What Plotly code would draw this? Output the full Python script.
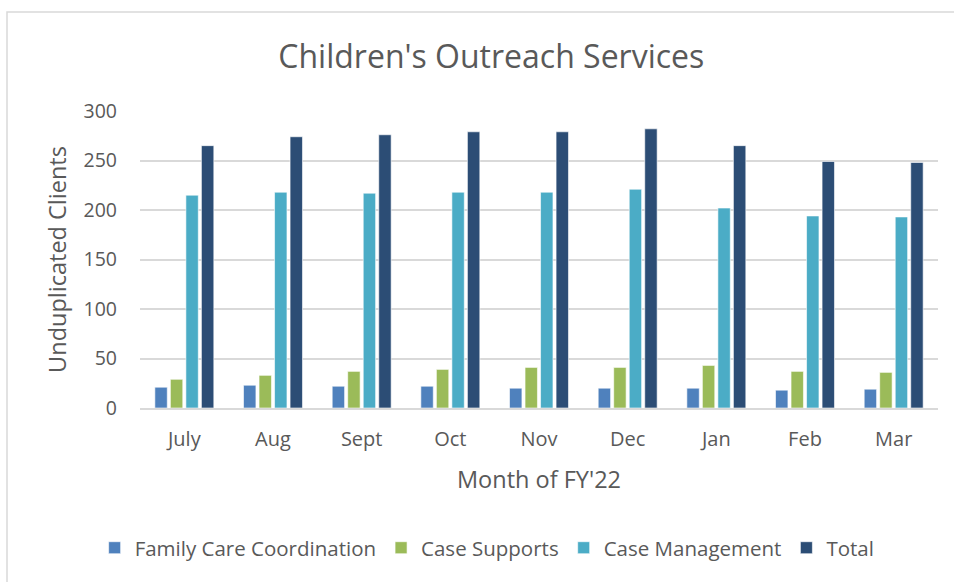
import plotly.graph_objects as go

months = ["July", "Aug", "Sept", "Oct", "Nov", "Dec", "Jan", "Feb", "Mar"]
family_care = [21, 23, 22, 22, 20, 20, 20, 18, 19]
case_supports = [29, 33, 37, 39, 41, 41, 43, 37, 36]
case_management = [215, 218, 217, 218, 218, 221, 202, 194, 193]
total = [265, 274, 276, 279, 279, 282, 265, 249, 248]

series = [
    ("Family Care Coordination", family_care, "#4F81BD"),
    ("Case Supports", case_supports, "#9BBB59"),
    ("Case Management", case_management, "#4BACC6"),
    ("Total", total, "#2C4D75"),
]

TEXT = "#595959"
FONT = "Open Sans"

fig = go.Figure()
for name, values, color in series:
    fig.add_trace(
        go.Bar(
            x=months,
            y=values,
            name=name,
            marker=dict(color=color, line=dict(color="rgba(255,255,255,0.6)", width=1)),
        )
    )

# chart border (Excel style frame)
fig.add_shape(
    type="rect",
    xref="paper",
    yref="paper",
    x0=(7 - 140) / 798,
    x1=(1000 - 140) / 798,
    y0=(408 - 620) / 297,
    y1=(408 - 12) / 297,
    line=dict(color="#D9D9D9", width=1.5),
    layer="below",
)

fig.update_layout(
    width=954,
    height=582,
    paper_bgcolor="white",
    plot_bgcolor="white",
    font=dict(family=FONT, color=TEXT, size=19),
    title=dict(
        text="Children's Outreach Services",
        x=0.515,
        xanchor="center",
        y=0.902,
        yanchor="middle",
        font=dict(size=32, color=TEXT),
    ),
    barmode="group",
    bargap=0.3,
    bargroupgap=0.2,
    margin=dict(l=140, r=16, t=111, b=174),
    xaxis=dict(
        title=dict(text="Month of FY'22", font=dict(size=23.5), standoff=21),
        showline=True,
        linecolor="#D9D9D9",
        linewidth=2,
        ticks="",
        tickfont=dict(size=20),
        ticklabelstandoff=12,
    ),
    yaxis=dict(
        title=dict(text="Unduplicated Clients", font=dict(size=23.5), standoff=10),
        range=[0, 300],
        dtick=50,
        showgrid=True,
        gridcolor="#D9D9D9",
        gridwidth=1.5,
        zeroline=False,
        ticks="",
        tickfont=dict(size=19.5),
        ticklabelstandoff=22,
    ),
    legend=dict(
        orientation="h",
        x=0.435,
        xanchor="center",
        y=-0.471,
        yanchor="middle",
        font=dict(size=20.5),
        itemwidth=30,
        traceorder="normal",
    ),
)

fig.write_html(
    "out.html",
    config={"displayModeBar": False},
    post_script="document.body.style.margin='0';document.body.style.overflow='hidden';",
)
